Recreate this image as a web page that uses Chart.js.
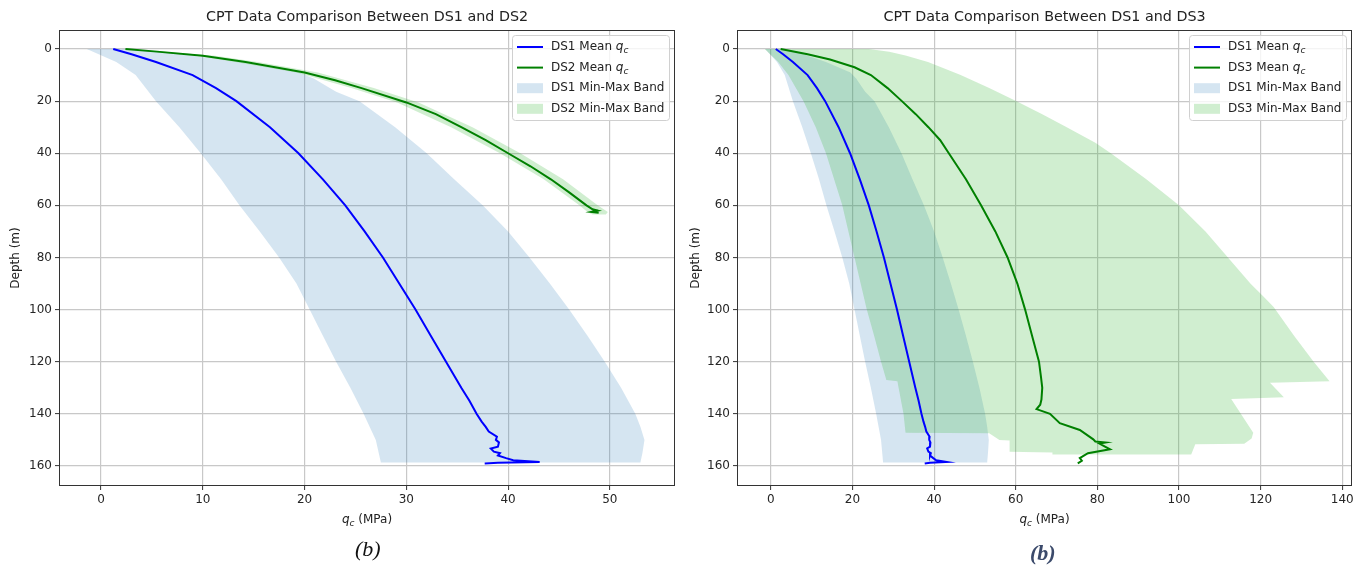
<!DOCTYPE html>
<html>
<head>
<meta charset="utf-8">
<script src="https://cdn.jsdelivr.net/npm/chart.js@4.4.1/dist/chart.umd.min.js"></script>
<style>
  body { margin: 0; background: #fff; width: 1365px; height: 570px; position: relative; overflow: hidden; }
  canvas { position: absolute; top: 0; }
  #c1 { left: 0; }
  #c2 { left: 682px; }
  .cap { position: absolute; font-family: "Liberation Serif", serif; font-style: italic; font-size: 22px; }
</style>
</head>
<body>
<canvas id="c1" width="682" height="570"></canvas>
<canvas id="c2" width="683" height="570"></canvas>
<div class="cap" style="left:355px;top:536px;color:#111">(b)</div>
<div class="cap" style="left:1030px;top:540px;color:#3b4a6b;font-weight:bold">(b)</div>
<script>
// ticks
const depthTicks = [0, 20, 40, 60, 80, 100, 120, 140, 160];
const xTicksLeft = [0, 10, 20, 30, 40, 50];
const xTicksRight = [0, 20, 40, 60, 80, 100, 120, 140];

// DS1 mean q_c (MPa) vs depth (m)
const ds1Depth = [0, 2, 5, 10, 15, 20, 30, 40, 50, 60, 70, 80, 90, 100, 110, 120, 130, 135, 140, 143, 145, 146.8, 148.8, 150, 151, 152.6, 153.3, 154.5, 155.1, 156, 157, 157.8, 158.5, 158.8, 159.1];
const ds1Mean  = [1.2, 3.0, 5.4, 9.0, 11.3, 13.3, 16.6, 19.4, 21.8, 24.0, 25.9, 27.7, 29.3, 30.9, 32.4, 33.9, 35.4, 36.2, 36.9, 37.4, 37.8, 38.1, 38.9, 38.8, 39.1, 39.0, 38.3, 38.6, 39.2, 39.0, 39.8, 40.5, 43.1, 39.0, 37.7];
// DS1 band edges
const ds1MaxDepth = [0, 2, 5, 9, 11.3, 16.4, 20, 30, 40, 50, 60, 70, 80, 90, 100, 110, 120, 130, 140, 145, 150, 155, 158.7];
const ds1Max      = [2.5, 8, 13.5, 19.5, 20.9, 23.1, 25.4, 28.9, 32, 34.7, 37.5, 40, 42.1, 44.1, 46, 47.8, 49.5, 51.1, 52.5, 53, 53.4, 53.2, 53];
const ds1MinDepth = [0, 5, 10, 20, 30, 40, 50, 60, 70, 80, 90, 100, 110, 120, 130, 140, 150, 158.7];
const ds1Min      = [-1.4, 1.5, 3.4, 5.4, 7.7, 9.8, 11.8, 13.6, 15.6, 17.5, 19.2, 20.5, 21.8, 23.1, 24.5, 25.8, 27, 27.5];

// DS2
const ds2Depth = [0, 1, 2.6, 5, 9, 12, 15, 20.5, 25, 30, 35, 40, 45, 50, 55, 60, 61.5, 62, 62.5, 62.8];
const ds2Mean  = [2.4, 5.5, 10, 14.2, 20, 23, 25.6, 30, 32.9, 35.4, 37.8, 40, 42.2, 44.2, 46, 47.7, 48.3, 48.8, 48.2, 48.9];
const ds2MaxDepth = [0, 2.6, 5, 9, 15, 20.5, 30, 40, 50, 60, 62.5, 63.5];
const ds2Max      = [2.8, 11.2, 15.4, 21.3, 26.8, 31.2, 36.5, 41.2, 45.4, 48.8, 49.8, 49.6];
const ds2MinDepth = [0, 2.6, 5, 9, 15, 20.5, 30, 40, 50, 60, 62.5, 63.5];
const ds2Min      = [2.0, 9.3, 13.2, 19.2, 24.6, 29.1, 34.4, 39.2, 43.5, 47.0, 47.8, 48.3];

// DS3
const ds3Depth = [0, 2, 4, 7, 10, 15, 20, 25, 30, 35, 40, 50, 60, 70, 80, 90, 100, 110, 120, 126, 130, 134.5, 136.5, 138.2, 140, 143.6, 146.2, 149.8, 150.6, 151, 151.4, 153.6, 155.1, 157, 158, 159];
const ds3Mean  = [2.4, 9, 14.5, 20.5, 24.5, 28.6, 32.1, 35.5, 38.6, 41.5, 43.6, 47.8, 51.5, 55, 58, 60.4, 62.3, 64, 65.7, 66.2, 66.5, 66.3, 66.0, 65.1, 68.4, 70.8, 75.7, 79, 79.5, 82, 80.5, 83.1, 77.7, 75.7, 76.2, 75.2];
const ds3MaxDepth = [0, 1, 2.5, 5, 10, 15, 20, 25, 30, 36, 40, 50, 60, 70, 80, 90, 95, 99, 110, 120, 127.5, 128.1, 133.6, 134.3, 147.3, 149.5, 151.5, 151.7, 155.6];
const ds3Max      = [24, 29, 33, 38.5, 46.5, 53.5, 60.2, 66.5, 72.5, 79.5, 83.3, 92, 100, 106.5, 112, 117.5, 120.7, 123.2, 128.2, 133, 136.9, 122.3, 125.7, 112.8, 118.2, 117.8, 116, 104, 103];
const ds3MinDepth = [0, 5, 10, 20, 30, 40, 50, 60, 70, 80, 90, 100, 110, 120, 127, 127.5, 140, 147.3, 147.5, 150, 150.2, 154.6, 154.8, 155.6];
const ds3Min      = [-1.5, 1.8, 4.3, 8, 11, 13.5, 15.5, 17.5, 19, 20.5, 22, 23.5, 25.3, 27, 28.3, 31, 32.5, 33, 53.5, 56, 58.5, 58.5, 69, 69];

const BLUE = '#0000ff', GREEN = '#008000';
const BLUE_BAND = 'rgba(31,119,180,0.19)', GREEN_BAND = 'rgba(50,180,50,0.23)';

function pts(xs, ds) { return xs.map((v, i) => ({x: v, y: ds[i]})); }
function band(maxX, maxD, minX, minD) { return pts(maxX, maxD).concat(pts(minX, minD).reverse()); }

// draws "q" + subscript "c" + rest
function qc(ctx, x, y, rest, align, size) {
  const f = size + 'px "DejaVu Sans"';
  const fs = 'italic ' + Math.round(size * 0.72) + 'px "DejaVu Sans"';
  ctx.font = 'italic ' + f; const wq = ctx.measureText('q').width;
  ctx.font = fs; const wc = ctx.measureText('c').width;
  ctx.font = f; const wr = ctx.measureText(rest).width;
  let x0 = align === 'center' ? x - (wq + wc + wr) / 2 : x;
  ctx.textAlign = 'left';
  ctx.font = 'italic ' + f; ctx.fillText('q', x0, y);
  ctx.font = fs; ctx.fillText('c', x0 + wq, y + size * 0.3);
  ctx.font = f; ctx.fillText(rest, x0 + wq + wc, y);
}

const decor = {
  id: 'decor',
  afterDraw(chart, args, o) {
    const ctx = chart.ctx, a = chart.chartArea;
    ctx.save();
    ctx.strokeStyle = '#333'; ctx.lineWidth = 1;
    ctx.strokeRect(a.left + 0.5, a.top + 0.5, a.width - 1, a.height - 1);
    ctx.fillStyle = '#222'; ctx.textBaseline = 'middle'; ctx.textAlign = 'center';
    ctx.font = '14.3px "DejaVu Sans"';
    ctx.fillText(o.title, (a.left + a.right) / 2, 17);
    ctx.save();
    ctx.translate(o.yTitleX, (a.top + a.bottom) / 2); ctx.rotate(-Math.PI / 2);
    ctx.font = '12px "DejaVu Sans"'; ctx.fillText('Depth (m)', 0, 0);
    ctx.restore();
    qc(ctx, (a.left + a.right) / 2, 520, ' (MPa)', 'center', 12);

    // legend
    const w = 157, h = 85, x0 = a.right - w - 6, y0 = a.top + 5;
    ctx.fillStyle = 'rgba(255,255,255,0.8)'; ctx.strokeStyle = '#d0d0d0';
    ctx.beginPath(); ctx.roundRect(x0 + 0.5, y0 + 0.5, w, h, 3); ctx.fill(); ctx.stroke();
    o.items.forEach((it, i) => {
      const cy = y0 + 12 + i * 20.6;
      if (it.line) {
        ctx.strokeStyle = it.color; ctx.lineWidth = 2;
        ctx.beginPath(); ctx.moveTo(x0 + 5, cy); ctx.lineTo(x0 + 31, cy); ctx.stroke();
      } else {
        ctx.fillStyle = it.color; ctx.fillRect(x0 + 5, cy - 5, 26, 10);
      }
      ctx.fillStyle = '#222';
      ctx.font = '12px "DejaVu Sans"'; ctx.textAlign = 'left';
      ctx.fillText(it.label, x0 + 39, cy);
      if (it.qc) {
        const wl = ctx.measureText(it.label).width;
        qc(ctx, x0 + 39 + wl, cy, '', 'left', 12);
      }
    });
    ctx.restore();
  }
};

function makeChart(id, cfg) {
  return new Chart(document.getElementById(id), {
    type: 'line',
    data: {
      datasets: [
        {data: pts(cfg.meanA, cfg.depthA), borderColor: BLUE, borderWidth: 2, pointRadius: 0, fill: false, order: 0},
        {data: pts(cfg.meanB, cfg.depthB), borderColor: GREEN, borderWidth: 2, pointRadius: 0, fill: false, order: 1},
        {data: cfg.bandA, borderColor: 'transparent', borderWidth: 0, backgroundColor: BLUE_BAND, pointRadius: 0, fill: 'shape', order: 3},
        {data: cfg.bandB, borderColor: 'transparent', borderWidth: 0, backgroundColor: GREEN_BAND, pointRadius: 0, fill: 'shape', order: 2}
      ]
    },
    options: {
      responsive: false,
      animation: false,
      devicePixelRatio: 1,
      layout: {padding: {left: 0, right: cfg.padRight, top: 30, bottom: 0}},
      plugins: {
        legend: {display: false},
        tooltip: {enabled: false},
        decor: {title: cfg.title, yTitleX: cfg.yTitleX, items: cfg.items}
      },
      scales: {
        x: {
          type: 'linear', min: cfg.xMin, max: cfg.xMax,
          afterBuildTicks: s => { s.ticks = cfg.xTicks.map(v => ({value: v})); },
          afterFit: s => { s.height = 84; },
          grid: {color: '#c8c8c8', lineWidth: 1.2, tickColor: '#333', tickLength: 4, tickWidth: 1},
          border: {display: false},
          ticks: {color: '#262626', font: {family: 'DejaVu Sans', size: 12}, padding: 3, maxRotation: 0}
        },
        y: {
          type: 'linear', reverse: true, min: -7.3, max: 167.7,
          afterBuildTicks: s => { s.ticks = depthTicks.map(v => ({value: v})); },
          afterFit: s => { s.width = cfg.yWidth; },
          grid: {color: '#c8c8c8', lineWidth: 1.2, tickColor: '#333', tickLength: 4, tickWidth: 1},
          border: {display: false},
          ticks: {color: '#262626', font: {family: 'DejaVu Sans', size: 12}, padding: 3}
        }
      }
    },
    plugins: [decor]
  });
}

makeChart('c1', {
  title: 'CPT Data Comparison Between DS1 and DS2',
  depthA: ds1Depth, meanA: ds1Mean, depthB: ds2Depth, meanB: ds2Mean,
  bandA: band(ds1Max, ds1MaxDepth, ds1Min, ds1MinDepth),
  bandB: band(ds2Max, ds2MaxDepth, ds2Min, ds2MinDepth),
  xMin: -4.13, xMax: 56.4, xTicks: xTicksLeft,
  padRight: 7, yWidth: 59, yTitleX: 16,
  items: [
    {line: true, color: BLUE, label: 'DS1 Mean ', qc: true},
    {line: true, color: GREEN, label: 'DS2 Mean ', qc: true},
    {color: BLUE_BAND, label: 'DS1 Min-Max Band'},
    {color: GREEN_BAND, label: 'DS2 Min-Max Band'}
  ]
});

makeChart('c2', {
  title: 'CPT Data Comparison Between DS1 and DS3',
  depthA: ds1Depth, meanA: ds1Mean, depthB: ds3Depth, meanB: ds3Mean,
  bandA: band(ds1Max, ds1MaxDepth, ds1Min, ds1MinDepth),
  bandB: band(ds3Max, ds3MaxDepth, ds3Min, ds3MinDepth),
  xMin: -8.3, xMax: 142.4, xTicks: xTicksRight,
  padRight: 13, yWidth: 55, yTitleX: 14,
  items: [
    {line: true, color: BLUE, label: 'DS1 Mean ', qc: true},
    {line: true, color: GREEN, label: 'DS3 Mean ', qc: true},
    {color: BLUE_BAND, label: 'DS1 Min-Max Band'},
    {color: GREEN_BAND, label: 'DS3 Min-Max Band'}
  ]
});
</script>
</body>
</html>
